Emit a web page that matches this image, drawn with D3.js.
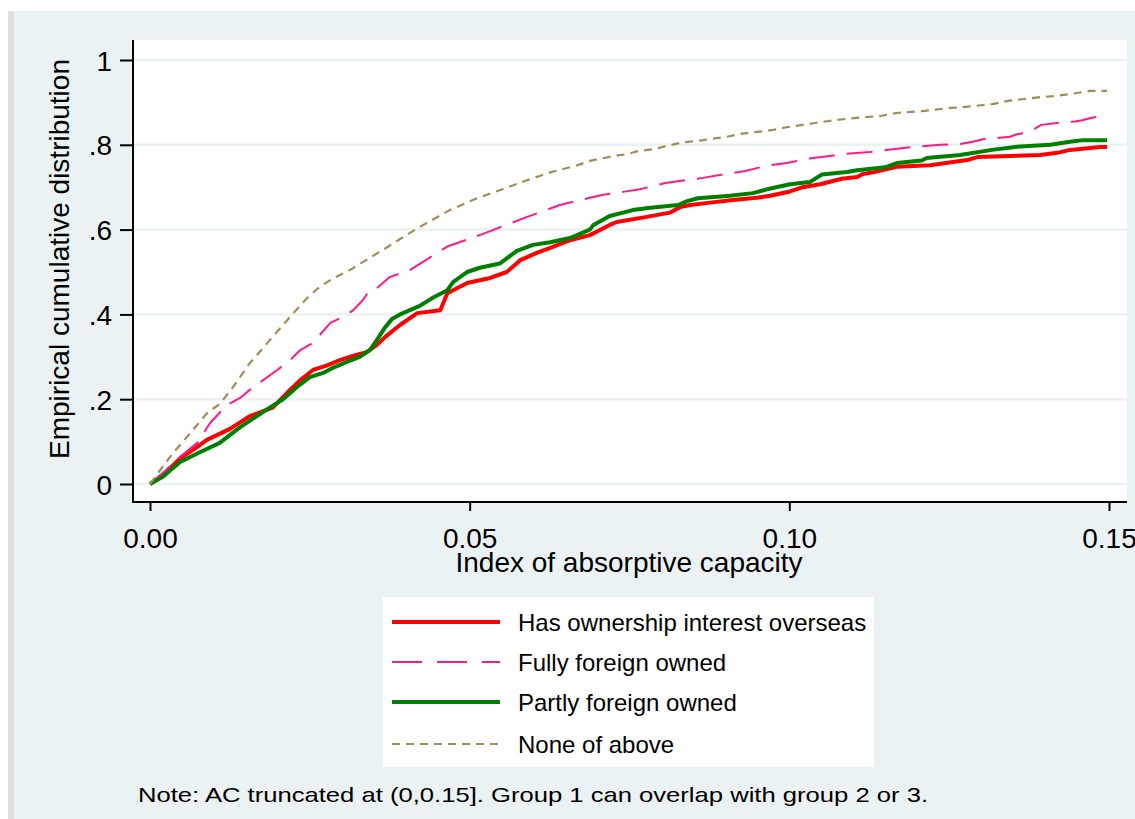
<!DOCTYPE html>
<html>
<head>
<meta charset="utf-8">
<script src="https://cdn.jsdelivr.net/npm/d3@7"></script>
<style>
  html, body { margin: 0; padding: 0; background: #ffffff; }
  svg { display: block; font-family: "Liberation Sans", Arial, sans-serif; }
</style>
</head>
<body>
<svg id="chart" width="1135" height="819"></svg>
<script>
// ---------------- data ----------------
const xTicks = [0, 0.05, 0.10, 0.15];
const xTickLabels = ["0.00", "0.05", "0.10", "0.15"];
const yTicks = [0, 0.2, 0.4, 0.6, 0.8, 1];
const yTickLabels = ["0", ".2", ".4", ".6", ".8", "1"];

const seriesNames = ["Has ownership interest overseas", "Fully foreign owned", "Partly foreign owned", "None of above"];

// Has ownership interest overseas
const ownX = [0,.0023,.0047,.0078,.0089,.0125,.0156,.0192,.0219,.0235,
  .0255,.0277,.0297,.0321,.0339,.0355,.0368,.0391,.0418,.0454,
  .0465,.0496,.0532,.0558,.0579,.0605,.0626,.0657,.0688,.0719,
  .0730,.0777,.0813,.0829,.0845,.0873,.0912,.0949,.0970,.1001,
  .1021,.1048,.1082,.1106,.1115,.1131,.1168,.1220,.1278,.1294,
  .1392,.1419,.1439,.1486,.1497];
const ownY = [0,.025,.06,.092,.104,.13,.16,.18,.222,.245,
  .269,.28,.292,.304,.311,.328,.347,.375,.403,.41,
  .45,.474,.486,.5,.528,.545,.557,.575,.587,.611,
  .618,.63,.64,.653,.658,.663,.67,.675,.68,.69,
  .7,.707,.72,.724,.731,.735,.748,.752,.764,.771,
  .776,.781,.788,.795,.795];

// Fully foreign owned
const fullX = [0,.0023,.0047,.0074,.0094,.0120,.0141,.0156,.0177,.0199,
  .0219,.0235,.0255,.0282,.0302,.0318,.0333,.0344,.0355,.0375,
  .0407,.0465,.0521,.0590,.0641,.0688,.0709,.0740,.0766,.0806,
  .0865,.0896,.0931,.0962,.0996,.1012,.1028,.1060,.1084,.1126,
  .1165,.1193,.1236,.1264,.1287,.1303,.1345,.1356,.1372,.1384,
  .1394,.1423,.1447,.1458,.1473,.1494,.1497];
const fullY = [0,.03,.064,.097,.144,.186,.203,.222,.245,.269,
  .292,.316,.333,.38,.394,.41,.434,.458,.462,.488,
  .505,.56,.59,.63,.658,.675,.682,.689,.695,.71,
  .722,.73,.738,.75,.757,.762,.767,.773,.778,.783,
  .79,.795,.8,.801,.807,.813,.819,.825,.829,.838,
  .847,.852,.855,.858,.864,.869,.869];

// Partly foreign owned
const partX = [0,.0020,.0047,.0078,.0109,.0141,.0177,.0208,.0230,.0250,
  .0271,.0286,.0308,.0328,.0344,.0355,.0368,.0379,.0391,.0422,
  .0443,.0465,.0474,.0496,.0516,.0547,.0574,.0599,.0626,.0657,
  .0688,.0693,.0719,.0740,.0755,.0779,.0826,.0840,.0857,.0907,
  .0943,.0965,.1001,.1032,.1051,.1090,.1106,.1150,.1168,.1207,
  .1215,.1267,.1317,.1353,.1408,.1439,.1459,.1497];
const partY = [0,.017,.052,.075,.097,.134,.17,.2,.229,.252,
  .262,.274,.288,.3,.316,.34,.37,.39,.4,.42,
  .44,.457,.476,.5,.51,.52,.55,.564,.57,.58,
  .6,.61,.632,.64,.646,.651,.658,.667,.674,.68,
  .686,.695,.707,.712,.73,.736,.74,.747,.757,.763,
  .769,.776,.788,.795,.8,.807,.811,.811];

// None of above
const noneX = [0,.0016,.0036,.0063,.0089,.0110,.0130,.0156,.0188,.0219,
  .0246,.0266,.0289,.0313,.0364,.0418,.0469,.0505,.0547,.0587,
  .0626,.0665,.0688,.0723,.0746,.0763,.0790,.0807,.0834,.0860,
  .0873,.0899,.0921,.0939,.0965,.0974,.0998,.1021,.1043,.1070,
  .1114,.1143,.1167,.1212,.1251,.1267,.1292,.1317,.1344,.1367,
  .1389,.1416,.1441,.1470,.1497];
const noneY = [0,.033,.073,.12,.167,.19,.229,.285,.34,.394,
  .439,.466,.487,.505,.552,.603,.646,.67,.693,.715,
  .735,.75,.762,.773,.778,.785,.79,.797,.806,.81,
  .813,.818,.825,.829,.833,.835,.842,.847,.852,.858,
  .865,.868,.875,.88,.887,.888,.892,.896,.904,.908,
  .912,.915,.92,.927,.927];

const seriesX = [ownX, fullX, partX, noneX];
const seriesY = [ownY, fullY, partY, noneY];

// ---------------- styles ----------------
const colors = ["#ff0000", "#ff1a8c", "#007f00", "#a38d57"];
const widths = [4, 2, 4, 2.2];
const dashes = [null, "26,12", null, "8,6"];

const svg = d3.select("#chart");
const W = 1135, H = 819;

// outer region
svg.append("rect").attr("x", 8).attr("y", 11).attr("width", W - 8).attr("height", H - 11).attr("fill", "#eaf2f3");
svg.append("rect").attr("x", 8).attr("y", 11).attr("width", 6).attr("height", H - 11).attr("fill", "#dedede");

// plot region
const plot = {left: 133, right: 1127, top: 40, bottom: 502};
svg.append("rect").attr("x", plot.left).attr("y", plot.top)
  .attr("width", plot.right - plot.left).attr("height", plot.bottom - plot.top).attr("fill", "#ffffff");

const x = d3.scaleLinear().domain([0, 0.15]).range([150, 1109]);
const y = d3.scaleLinear().domain([0, 1]).range([484, 60]);

// gridlines
svg.append("g").selectAll("line").data(yTicks).join("line")
  .attr("x1", plot.left).attr("x2", plot.right)
  .attr("y1", d => y(d)).attr("y2", d => y(d))
  .attr("stroke", "#eaf2f3").attr("stroke-width", 2.5);

// series
const line = d3.line().x(d => x(d[0])).y(d => y(d[1])).curve(d3.curveLinear);
seriesX.forEach((xs, i) => {
  const pts = xs.map((v, j) => [v, seriesY[i][j]]);
  svg.append("path").datum(pts)
    .attr("d", line)
    .attr("fill", "none")
    .attr("stroke", colors[i])
    .attr("stroke-width", widths[i])
    .attr("stroke-linejoin", "round")
    .attr("stroke-dasharray", dashes[i]);
});

// y axis
const yAxis = d3.axisLeft(y).tickValues(yTicks).tickFormat((d, i) => yTickLabels[i]).tickSize(13).tickPadding(8);
const gy = svg.append("g").attr("transform", `translate(${plot.left},0)`).call(yAxis);
gy.select(".domain").remove();
gy.selectAll(".tick line").attr("stroke", "#000").attr("stroke-width", 2);
gy.selectAll(".tick text").attr("font-size", 28).attr("fill", "#000")
  .attr("font-family", "'Liberation Sans', Arial, sans-serif").attr("dy", "0.36em");

// x axis
const xAxis = d3.axisBottom(x).tickValues(xTicks).tickFormat((d, i) => xTickLabels[i]).tickSize(9).tickPadding(17);
const gx = svg.append("g").attr("transform", `translate(0,${plot.bottom})`).call(xAxis);
gx.select(".domain").remove();
gx.selectAll(".tick line").attr("stroke", "#000").attr("stroke-width", 2);
gx.selectAll(".tick text").attr("font-size", 28).attr("fill", "#000")
  .attr("font-family", "'Liberation Sans', Arial, sans-serif").attr("dy", "0.71em");

// axis lines
svg.append("line").attr("x1", plot.left).attr("x2", plot.left).attr("y1", plot.top).attr("y2", plot.bottom + 1)
  .attr("stroke", "#000").attr("stroke-width", 2);
svg.append("line").attr("x1", plot.left - 1).attr("x2", plot.right).attr("y1", plot.bottom).attr("y2", plot.bottom)
  .attr("stroke", "#000").attr("stroke-width", 2);

// axis titles
svg.append("text").attr("x", 629).attr("y", 572).attr("text-anchor", "middle")
  .attr("font-size", 28).attr("fill", "#000").text("Index of absorptive capacity");
svg.append("text").attr("transform", "translate(69,259) rotate(-90)").attr("text-anchor", "middle")
  .attr("font-size", 28).attr("fill", "#000").text("Empirical cumulative distribution");

// legend
const lg = svg.append("g");
lg.append("rect").attr("x", 383).attr("y", 597).attr("width", 491).attr("height", 170).attr("fill", "#ffffff");
const rows = [622, 662, 702, 744];
seriesNames.forEach((name, i) => {
  lg.append("line").attr("x1", 392).attr("x2", 500).attr("y1", rows[i]).attr("y2", rows[i])
    .attr("stroke", colors[i]).attr("stroke-width", widths[i]).attr("stroke-dasharray", i === 1 ? "30,15" : dashes[i]);
  lg.append("text").attr("x", 518).attr("y", rows[i] + 8.5).attr("font-size", 24).attr("fill", "#000").text(name);
});

// note
svg.append("text").attr("x", 138).attr("y", 802).attr("font-size", 21).attr("fill", "#000")
  .attr("textLength", 790).attr("lengthAdjust", "spacingAndGlyphs")
  .text("Note: AC truncated at (0,0.15]. Group 1 can overlap with group 2 or 3.");
</script>
</body>
</html>
